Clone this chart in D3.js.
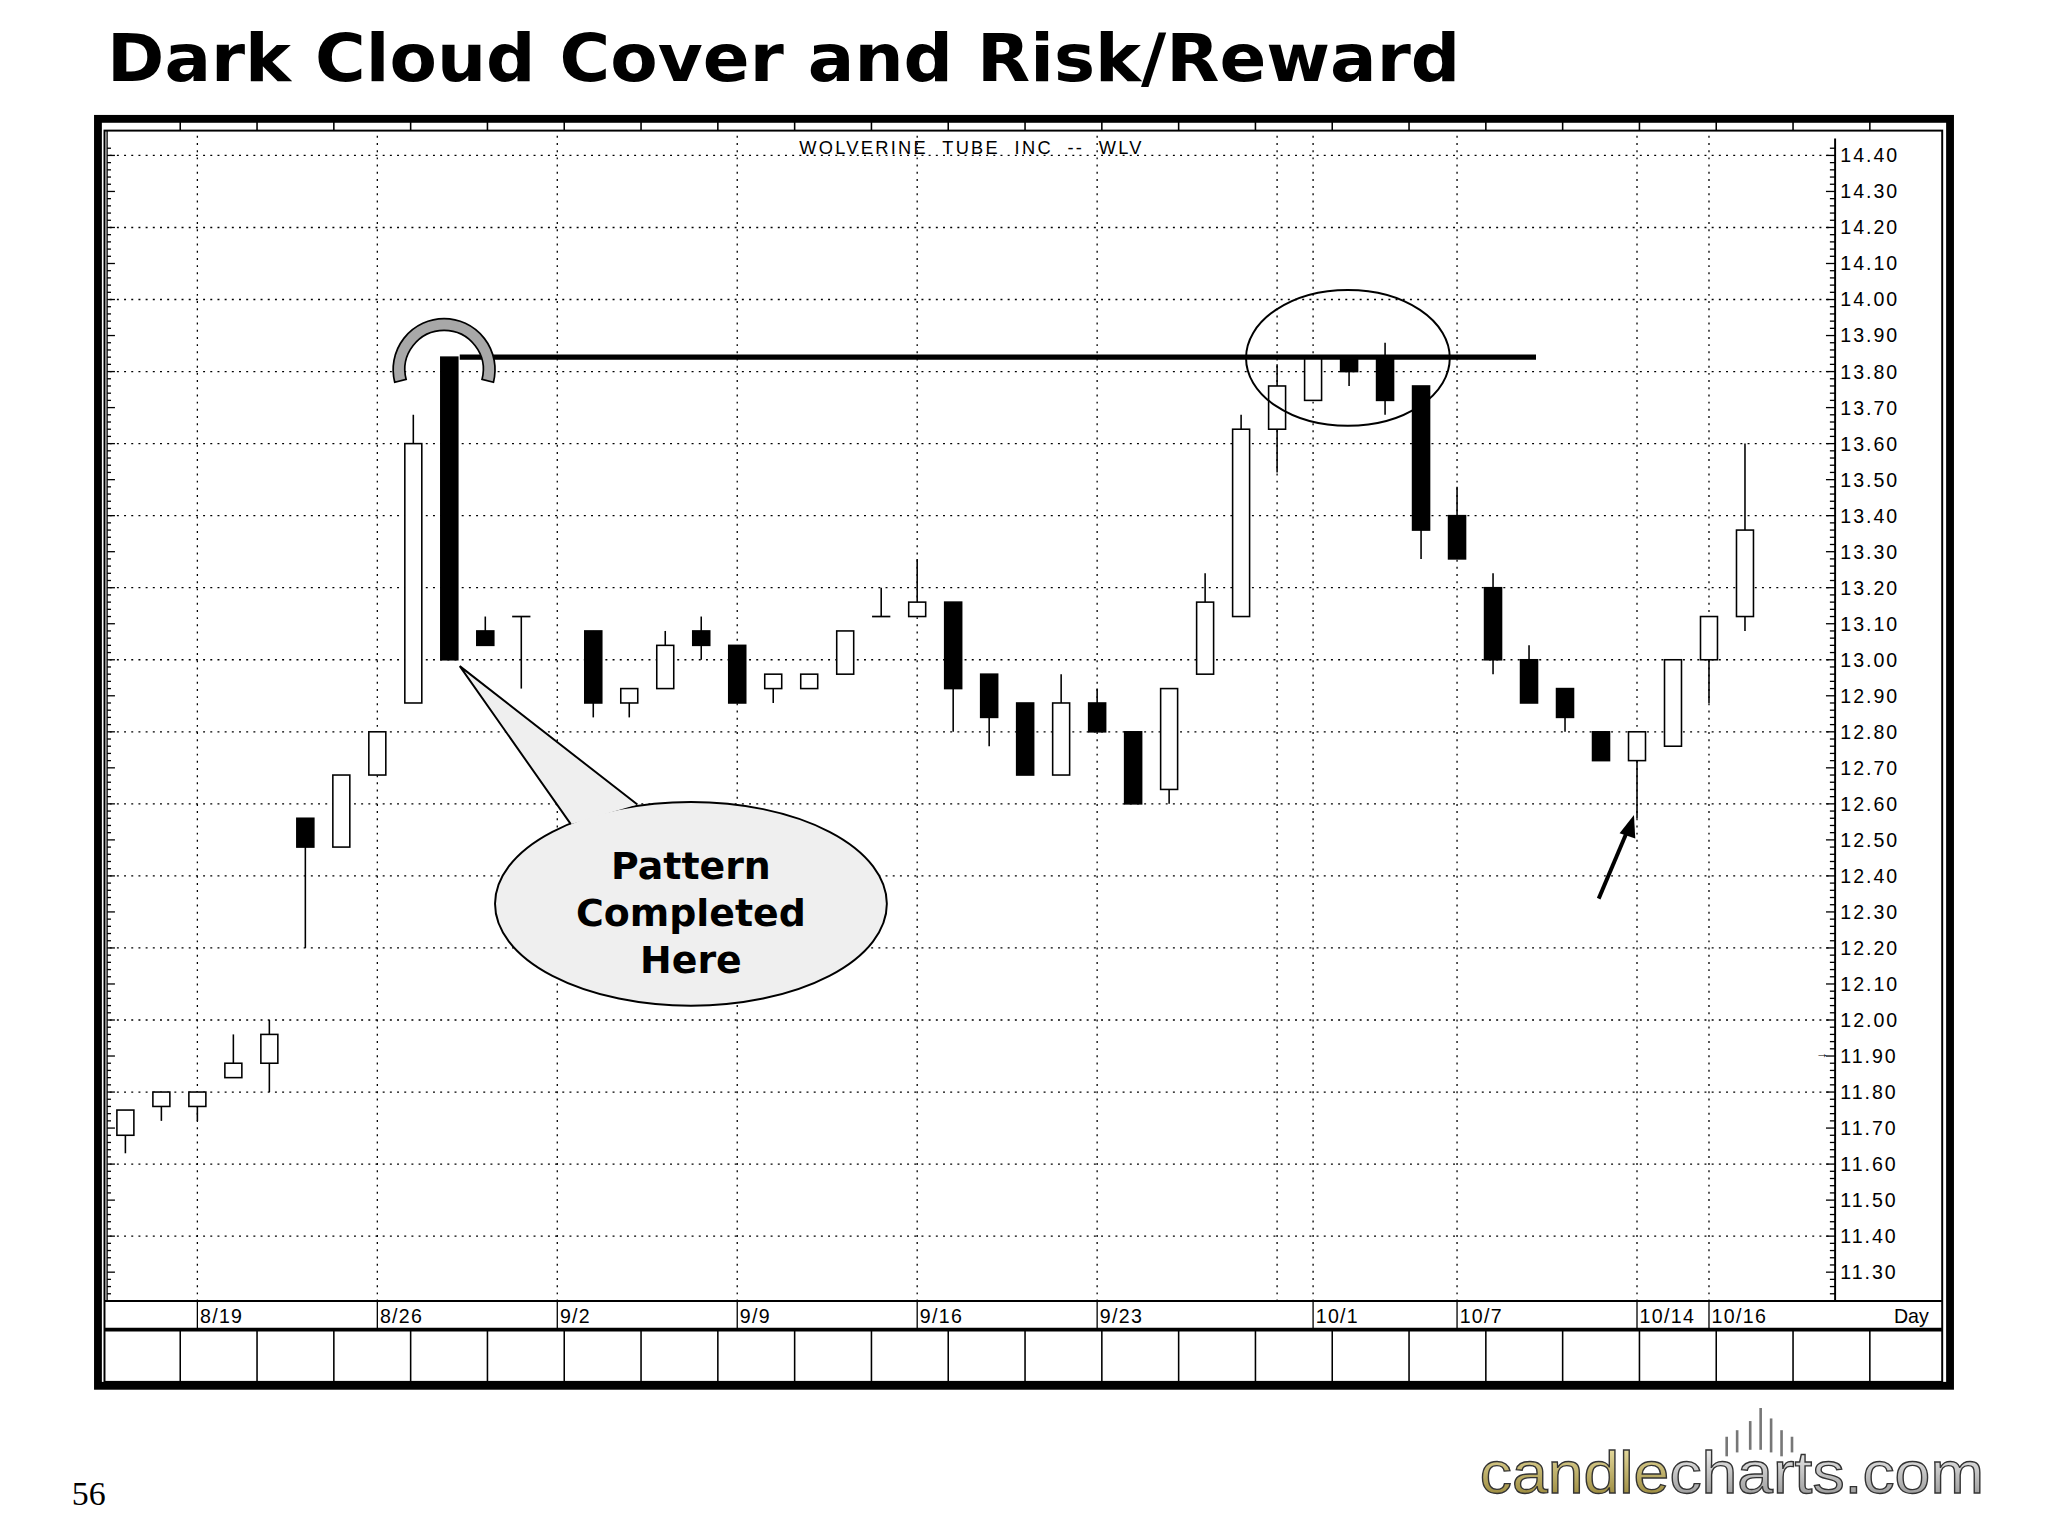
<!DOCTYPE html>
<html><head><meta charset="utf-8">
<script src="https://cdn.jsdelivr.net/npm/d3@7"></script>
<style>body{margin:0;background:#fff}</style></head>
<body><svg id="c" width="2048" height="1536" viewBox="0 0 1568 1176"></svg>
<script>
// slot, open, high, low, close  (slot 12 = holiday gap)
const slots = [0,1,2,3,4,5,6,7,8,9,10,11,13,14,15,16,17,18,19,20,21,22,23,24,25,26,27,28,29,30,31,32,33,34,35,36,37,38,39,40,41,42,43,44,45];
const opens = [11.68,11.76,11.76,11.84,11.88,12.56,12.48,12.68,12.88,13.84,13.08,13.12,13.08,12.88,12.92,13.08,13.04,12.92,12.92,12.96,13.12,13.12,13.16,12.96,12.88,12.68,12.88,12.80,12.64,12.96,13.12,13.64,13.72,13.84,13.84,13.76,13.40,13.20,13.00,12.92,12.80,12.72,12.76,13.00,13.12];
const highs = [11.75,11.80,11.80,11.96,12.00,12.56,12.68,12.80,13.68,13.84,13.12,13.12,13.08,12.92,13.08,13.12,13.04,12.96,12.96,13.08,13.20,13.28,13.16,12.96,12.88,12.96,12.92,12.80,12.92,13.24,13.68,13.82,13.84,13.84,13.88,13.76,13.48,13.24,13.04,12.92,12.80,12.80,13.00,13.12,13.60];
const lows  = [11.63,11.72,11.72,11.84,11.80,12.20,12.48,12.68,12.88,13.00,13.04,12.92,12.84,12.84,12.92,13.00,12.88,12.88,12.92,12.96,13.12,13.12,12.80,12.76,12.68,12.68,12.80,12.60,12.60,12.96,13.12,13.52,13.72,13.76,13.68,13.28,13.28,12.96,12.88,12.80,12.72,12.56,12.76,12.88,13.08];
const closes= [11.75,11.80,11.80,11.88,11.96,12.48,12.68,12.80,13.60,13.00,13.04,13.12,12.88,12.92,13.04,13.04,12.88,12.96,12.96,13.08,13.12,13.16,12.92,12.84,12.68,12.88,12.80,12.60,12.92,13.16,13.64,13.76,13.84,13.80,13.72,13.36,13.28,13.00,12.88,12.84,12.72,12.80,13.00,13.12,13.36];
const dateLabels = ["8/19","8/26","9/2","9/9","9/16","9/23","10/1","10/7","10/14","10/16"];
const dateSlots  = [2,7,12,17,22,27,33,37,42,44];
const extraGridSlots = [32];
const yTicks = d3.range(14.40,11.25,-0.10).map(v=>+v.toFixed(2));
const gridY = d3.range(14.40,11.35,-0.20).map(v=>+v.toFixed(2));
const resistance = 13.84;

const svg = d3.select("#c");
const x = d3.scaleLinear().domain([0,45]).range([96,1336]);
const y = d3.scaleLinear().domain([11.30,14.40]).range([974,119]);

svg.append("text").attr("x",82).attr("y",62).attr("font-family","DejaVu Sans").attr("font-weight","bold")
 .attr("font-size",50).attr("textLength",1036).attr("lengthAdjust","spacingAndGlyphs").text("Dark Cloud Cover and Risk/Reward");

svg.append("rect").attr("x",75).attr("y",91).attr("width",1418).attr("height",970).attr("fill","#fff").attr("stroke","#000").attr("stroke-width",6);
svg.append("rect").attr("x",80).attr("y",100).attr("width",1407).attr("height",958).attr("fill","none").attr("stroke","#000").attr("stroke-width",1.5);
svg.append("line").attr("x1",80).attr("x2",1487).attr("y1",996).attr("y2",996).attr("stroke","#000").attr("stroke-width",1.5);
svg.append("line").attr("x1",80).attr("x2",1487).attr("y1",1018).attr("y2",1018).attr("stroke","#000").attr("stroke-width",3);
svg.append("line").attr("x1",1405).attr("x2",1405).attr("y1",106).attr("y2",996).attr("stroke","#000").attr("stroke-width",1.5);
svg.append("line").attr("x1",82).attr("x2",82).attr("y1",100).attr("y2",996).attr("stroke","#000").attr("stroke-width",1);
const divX = d3.range(23).map(i=>138+i*58.8);
divX.forEach(d=>{
  svg.append("line").attr("x1",d).attr("x2",d).attr("y1",1018).attr("y2",1058).attr("stroke","#000").attr("stroke-width",1.2);
  svg.append("line").attr("x1",d).attr("x2",d).attr("y1",92).attr("y2",100).attr("stroke","#000").attr("stroke-width",1.2);
});

const g = svg.append("g");
gridY.forEach(v=>g.append("line").attr("x1",84).attr("x2",1403).attr("y1",y(v)).attr("y2",y(v))
  .attr("stroke","#000").attr("stroke-width",1).attr("stroke-dasharray","1.5,4"));
dateSlots.concat(extraGridSlots).forEach(s=>{
  const gx = x(s);
  g.append("line").attr("x1",gx).attr("x2",gx).attr("y1",104).attr("y2",996).attr("stroke","#000").attr("stroke-width",1).attr("stroke-dasharray","1.5,4");
});
const yAxis = d3.axisRight(y).tickValues(yTicks).tickSize(0).tickFormat(d3.format(".2f"));
const ax = svg.append("g").attr("transform","translate(1405,0)").call(yAxis);
ax.select(".domain").remove();
ax.selectAll("text").attr("x",4).attr("font-family","Liberation Sans").attr("font-size",15).attr("letter-spacing",1.5).attr("fill","#000");
d3.range(11.24,14.44,0.02).forEach(v=>{
  const major = Math.abs(Math.round(v*10)-v*10)<1e-6;
  svg.append("line").attr("x1",1405-(major?7:4)).attr("x2",1405).attr("y1",y(v)).attr("y2",y(v)).attr("stroke","#000");
  svg.append("line").attr("x1",82).attr("x2",82+(major?6:3)).attr("y1",y(v)).attr("y2",y(v)).attr("stroke","#000");
});
dateSlots.forEach((s,i)=>{
  const lx = x(s);
  svg.append("line").attr("x1",lx).attr("x2",lx).attr("y1",996).attr("y2",1018).attr("stroke","#000");
  svg.append("text").attr("x",lx+2).attr("y",1013).attr("font-family","Liberation Sans").attr("font-size",15).attr("letter-spacing",1).text(dateLabels[i]);
});
svg.append("text").attr("x",1450).attr("y",1013).attr("font-family","Liberation Sans").attr("font-size",15).text("Day");
svg.append("text").attr("x",612).attr("y",118).attr("font-family","Liberation Sans").attr("font-size",14)
  .attr("textLength",262).attr("lengthAdjust","spacing").text("WOLVERINE  TUBE  INC  --  WLV").style("white-space","pre");
svg.append("text").attr("x",1390).attr("y",810).attr("font-family","Liberation Sans").attr("font-size",10).text("→");

const bw = 13;
slots.forEach((s,i)=>{
  const cx = x(s), o=opens[i], c=closes[i];
  svg.append("line").attr("x1",cx).attr("x2",cx).attr("y1",y(highs[i])).attr("y2",y(lows[i])).attr("stroke","#000").attr("stroke-width",1.2);
  const top=y(Math.max(o,c)), bot=y(Math.min(o,c));
  if (Math.abs(o-c)<0.005){
    svg.append("line").attr("x1",cx-7).attr("x2",cx+7).attr("y1",top).attr("y2",top).attr("stroke","#000").attr("stroke-width",1.3);
  } else {
    svg.append("rect").attr("x",cx-bw/2).attr("y",top).attr("width",bw).attr("height",bot-top)
      .attr("fill", c<o?"#000":"#fff").attr("stroke","#000").attr("stroke-width",1.2);
  }
});

svg.append("line").attr("x1",352).attr("x2",1176).attr("y1",y(resistance)).attr("y2",y(resistance)).attr("stroke","#000").attr("stroke-width",4);
const arc = d3.arc()({innerRadius:30,outerRadius:39,startAngle:-Math.PI/2-0.25,endAngle:Math.PI/2+0.25});
svg.append("path").attr("d",arc).attr("transform","translate(340,283)").attr("fill","#a8a8a8").attr("stroke","#000").attr("stroke-width",1.3);
svg.append("ellipse").attr("cx",1032).attr("cy",274).attr("rx",78).attr("ry",52).attr("fill","none").attr("stroke","#000").attr("stroke-width",1.5);
svg.append("ellipse").attr("cx",529).attr("cy",692).attr("rx",150).attr("ry",78).attr("fill","#efefef").attr("stroke","#000").attr("stroke-width",1.5);
svg.append("path").attr("d","M437,631 L352,510 L488,616").attr("fill","#efefef").attr("stroke","#000").attr("stroke-width",1.5);
["Pattern","Completed","Here"].forEach((t,i)=>svg.append("text").attr("x",529).attr("y",673+i*36).attr("text-anchor","middle")
  .attr("font-family","DejaVu Sans").attr("font-weight","bold").attr("font-size",29).text(t));
svg.append("line").attr("x1",1224).attr("y1",688).attr("x2",1246).attr("y2",636).attr("stroke","#000").attr("stroke-width",3);
svg.append("path").attr("d","M1251,624 L1240,638 L1252,642 Z").attr("fill","#000");

svg.append("text").attr("x",55).attr("y",1152).attr("font-family","Liberation Serif").attr("font-size",26).text("56");
const defs = svg.append("defs");
const gg = defs.append("linearGradient").attr("id","gold").attr("x1",0).attr("y1",0).attr("x2",0).attr("y2",1);
gg.append("stop").attr("offset","0").attr("stop-color","#f4eab0");gg.append("stop").attr("offset","1").attr("stop-color","#8c7a2a");
const sg = defs.append("linearGradient").attr("id","silv").attr("x1",0).attr("y1",0).attr("x2",0).attr("y2",1);
sg.append("stop").attr("offset","0").attr("stop-color","#ffffff");sg.append("stop").attr("offset","1").attr("stop-color","#8a8a8a");
const logo = svg.append("text").attr("x",1133).attr("y",1143).attr("font-family","Liberation Sans").attr("font-size",46)
  .attr("textLength",386).attr("lengthAdjust","spacingAndGlyphs").attr("stroke","#333").attr("stroke-width",1);
logo.append("tspan").attr("fill","url(#gold)").text("candle");
logo.append("tspan").attr("fill","url(#silv)").text("charts.com");
[[1322,1100,1115],[1330,1095,1112],[1340,1088,1110],[1348,1078,1110],[1356,1086,1112],[1364,1095,1115],[1372,1100,1112]].forEach(d=>
  svg.append("line").attr("x1",d[0]).attr("x2",d[0]).attr("y1",d[1]).attr("y2",d[2]).attr("stroke","#777").attr("stroke-width",2));
</script></body></html>
